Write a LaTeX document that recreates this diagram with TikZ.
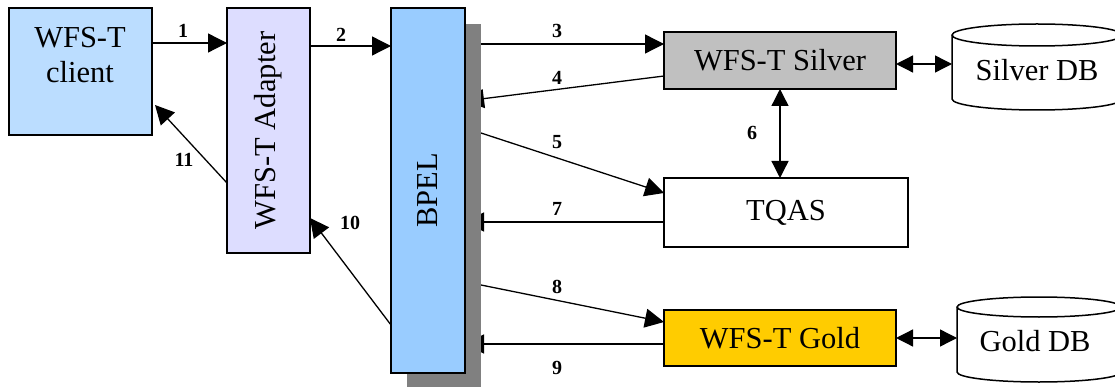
\documentclass[tikz,border=0pt]{standalone}
\usepackage{fontspec}
\setmainfont{Liberation Serif}
\usetikzlibrary{arrows.meta,positioning}
\pgfdeclarelayer{bg}
\pgfdeclarelayer{shadowlayer}
\pgfsetlayers{bg,shadowlayer,main}
\definecolor{clientcol}{HTML}{BBDDFF}
\definecolor{adaptcol}{HTML}{DDDDFF}
\definecolor{bpelcol}{HTML}{99CCFF}
\definecolor{silvercol}{HTML}{C0C0C0}
\definecolor{goldcol}{HTML}{FFCC00}
\definecolor{shadowcol}{HTML}{808080}
\tikzset{
  box/.style={draw, line width=1.5pt, inner sep=0pt, outer sep=0pt, anchor=north west},
  big/.style={font=\fontsize{30.5}{35}\selectfont},
  num/.style={font=\fontsize{20}{22}\selectfont\bfseries, inner sep=0pt},
  flow/.style={line width=1.3pt, -{Triangle[length=19pt,width=19pt]}},
  both/.style={line width=1.3pt, {Triangle[length=17pt,width=17pt]}-{Triangle[length=17pt,width=17pt]}},
  db/.style={draw, fill=white, line width=1.5pt}
}
\begin{document}
\begin{tikzpicture}[x=1pt,y=-1pt]
\useasboundingbox (0,0) rectangle (1115,387);
% boxes
\node[box, fill=clientcol, minimum width=143pt, minimum height=127pt] (client) at (9,8) {};
\node[big, align=center, inner sep=0pt] (clientlbl) at (80,55) {WFS-T\\client};
\node[box, fill=adaptcol, minimum width=83pt, minimum height=245pt] (adapter) at (227,8) {};
\node[big, rotate=90, inner sep=0pt] (adapterlbl) at (adapter.center) {WFS-T Adapter};
\node[box, fill=bpelcol, minimum width=74pt, minimum height=365pt] (bpel) at (391,8) {};
\node[big, rotate=90, inner sep=0pt] (bpellbl) at (bpel.center) {BPEL};
\node[box, fill=silvercol, minimum width=232pt, minimum height=57pt, big] (silver) at (664,32) {WFS-T Silver};
\node[box, fill=white, minimum width=244pt, minimum height=69pt, big] (tqas) at (664,178) {TQAS};
\node[box, fill=goldcol, minimum width=232pt, minimum height=56pt, big] (gold) at (664,310) {WFS-T Gold};
% shadow of BPEL
\begin{pgfonlayer}{shadowlayer}
\fill[shadowcol] ([xshift=16pt,yshift=-16pt]bpel.north west) rectangle ([xshift=16pt,yshift=-16pt]bpel.south east);
\end{pgfonlayer}
% databases
\begin{scope}
\clip (0,0) rectangle (1115,387);
\draw[db] (952,35) -- (952,99) arc[start angle=180,end angle=0,x radius=85,y radius=11] -- (1122,35) arc[start angle=0,end angle=-180,x radius=85,y radius=11] -- cycle;
\draw[line width=1.5pt] (952,35) arc[start angle=180,end angle=0,x radius=85,y radius=11];
\draw[db] (957,307) -- (957,372) arc[start angle=180,end angle=0,x radius=82,y radius=10] -- (1121,307) arc[start angle=0,end angle=-180,x radius=82,y radius=10] -- cycle;
\draw[line width=1.5pt] (957,307) arc[start angle=180,end angle=0,x radius=82,y radius=10];
\end{scope}
\node[big] (silverdb) at (1037,70) {Silver DB};
\node[big] (golddb) at (1035,341) {Gold DB};
\coordinate (sdbw) at (952,64);
\coordinate (gdbw) at (957,338);
% connectors
\draw[flow] ([yshift=-35pt]client.north east) -- ([yshift=-35pt]adapter.north west);
\draw[flow] ([yshift=-38pt]adapter.north east) -- ([yshift=-38pt]bpel.north west);
\begin{pgfonlayer}{bg}
\draw[flow] ([xshift=16pt,yshift=-36pt]bpel.north east) -- ([yshift=-12pt]silver.north west);
\draw[flow] ([yshift=-44pt]silver.north west) -- ([yshift=-93pt]bpel.north east);
\draw[flow] ([xshift=16pt,yshift=-125pt]bpel.north east) -- ([yshift=-15pt]tqas.north west);
\draw[flow] ([yshift=-44pt]tqas.north west) -- ([yshift=-214pt]bpel.north east);
\draw[flow] ([xshift=16pt,yshift=-277pt]bpel.north east) -- ([yshift=-12pt]gold.north west);
\draw[flow] ([yshift=-34pt]gold.north west) -- ([yshift=-336pt]bpel.north east);
\end{pgfonlayer}
\draw[both] (silver.south) -- (silver.south |- tqas.north);
\draw[flow] ([yshift=-317pt]bpel.north west) -- ([yshift=-210pt]adapter.north east);
\draw[flow] ([yshift=-175pt]adapter.north west) -- ([xshift=3pt,yshift=-97pt]client.north east);
\draw[both] (silver.east |- sdbw) -- (sdbw);
\draw[both] (gold.east |- gdbw) -- (gdbw);
% labels
\node[num] (l1) at (183,31) {1};
\node[num] (l2) at (341,35) {2};
\node[num] (l3) at (557,31) {3};
\node[num] (l4) at (557,78) {4};
\node[num] (l5) at (557,142) {5};
\node[num] (l6) at (752,133) {6};
\node[num] (l7) at (557,209) {7};
\node[num] (l8) at (557,287) {8};
\node[num] (l9) at (557,368) {9};
\node[num] (l10) at (350,223) {10};
\node[num] (l11) at (184,160) {11};
\end{tikzpicture}
\end{document}
